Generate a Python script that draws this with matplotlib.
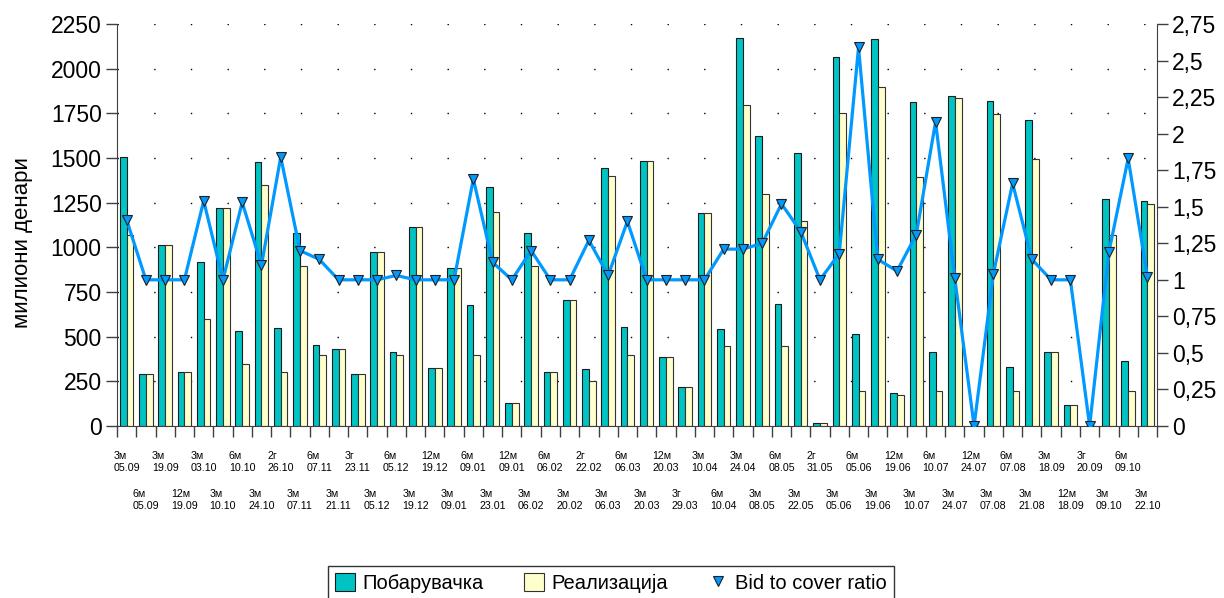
import matplotlib
matplotlib.use("Agg")
import matplotlib.pyplot as plt
import numpy as np
from matplotlib.patches import Patch
from matplotlib.lines import Line2D
from matplotlib.ticker import FuncFormatter

plt.rcParams['font.family'] = ['Liberation Sans', 'DejaVu Sans']

categories = ["3м\n05.09", "6м\n05.09", "3м\n19.09", "12м\n19.09", "3м\n03.10", "3м\n10.10",
              "6м\n10.10", "3м\n24.10", "2г\n26.10", "3м\n07.11", "6м\n07.11", "3м\n21.11",
              "3г\n23.11", "3м\n05.12", "6м\n05.12", "3м\n19.12", "12м\n19.12", "3м\n09.01",
              "6м\n09.01", "3м\n23.01", "12м\n09.01", "3м\n06.02", "6м\n06.02", "3м\n20.02",
              "2г\n22.02", "3м\n06.03", "6м\n06.03", "3м\n20.03", "12м\n20.03", "3г\n29.03",
              "3м\n10.04", "6м\n10.04", "3м\n24.04", "3м\n08.05", "6м\n08.05", "3м\n22.05",
              "2г\n31.05", "3м\n05.06", "6м\n05.06", "3м\n19.06", "12м\n19.06", "3м\n10.07",
              "6м\n10.07", "3м\n24.07", "12м\n24.07", "3м\n07.08", "6м\n07.08", "3м\n21.08",
              "3м\n18.09", "12м\n18.09", "3г\n20.09", "3м\n09.10", "6м\n09.10", "3м\n22.10"]

demand = [1507, 289, 1011, 300, 920, 1218, 533, 1479, 550, 1082, 455, 433, 289, 976, 414,
          1112, 323, 886, 675, 1340, 127, 1082, 302, 703, 317, 1446, 556, 1483, 388, 216,
          1194, 545, 2173, 1625, 683, 1530, 15, 2063, 515, 2168, 183, 1815, 416, 1847, 0,
          1821, 328, 1711, 414, 118, 0, 1270, 364, 1261]

realized = [1069, 289, 1011, 300, 599, 1218, 347, 1347, 300, 897, 399, 433, 289, 976, 399,
            1112, 323, 886, 399, 1199, 127, 897, 302, 703, 250, 1397, 399, 1483, 388, 216,
            1194, 449, 1798, 1300, 449, 1149, 15, 1754, 198, 1896, 172, 1394, 198, 1834, 0,
            1746, 198, 1496, 414, 118, 0, 1069, 198, 1242]

ratio = [1.41, 1.0, 1.0, 1.0, 1.54, 1.0, 1.53, 1.10, 1.84, 1.20, 1.14, 1.0, 1.0, 1.0, 1.03,
         1.0, 1.0, 1.0, 1.69, 1.12, 1.0, 1.20, 1.0, 1.0, 1.27, 1.03, 1.40, 1.0, 1.0, 1.0,
         1.0, 1.21, 1.21, 1.25, 1.52, 1.33, 1.0, 1.18, 2.59, 1.14, 1.06, 1.31, 2.08, 1.01, 0.0,
         1.04, 1.66, 1.14, 1.0, 1.0, 0.0, 1.19, 1.83, 1.02]

left_ticks = [0, 250, 500, 750, 1000, 1250, 1500, 1750, 2000, 2250]
right_ticks = [0, 0.25, 0.5, 0.75, 1, 1.25, 1.5, 1.75, 2, 2.25, 2.5, 2.75]

teal = '#00C4C4'
yellow = '#FFFFCC'
blue = '#0099FF'

fig = plt.figure(figsize=(12.24, 5.98), dpi=100)
ax = fig.add_axes([0.0956, 0.2876, 0.8497, 0.6723])

x = np.arange(len(categories))
w = 0.35
ax.bar(x - w / 2, demand, width=w, color=teal, edgecolor='#1a1a1a', linewidth=0.8, zorder=2)
ax.bar(x + w / 2, realized, width=w, color=yellow, edgecolor='#333333', linewidth=0.8, zorder=2)

ax.set_xlim(-0.5, len(categories) - 0.5)
ax.set_ylim(0, 2250)
ax.set_yticks(left_ticks)
ax.tick_params(axis='y', labelsize=16.5, length=8, width=1, color='#404040', pad=3)
ax.yaxis.grid(True, color='black', linewidth=1, linestyle=(0, (1, 25.4)))
ax.set_axisbelow(True)
ax.set_xticks(np.arange(-0.5, len(categories), 1.0))
ax.set_xticklabels([])
ax.tick_params(axis='x', length=8, width=1, color='#404040')
ax.set_ylabel('милиони денари', fontsize=16)
ax.yaxis.set_label_coords(-0.081, 0.456)
for s in ['top', 'right']:
    ax.spines[s].set_visible(False)
ax.spines['left'].set_color('#404040')
ax.spines['bottom'].set_color('#404040')

for i, lab in enumerate(categories):
    off = -26 if i % 2 == 0 else -53.5
    ax.annotate(lab, xy=(i, 0), xycoords=('data', 'axes fraction'),
                xytext=(0, off), textcoords='offset points',
                ha='center', va='center', multialignment='left', fontsize=7.7,
                linespacing=1.25)

ax2 = ax.twinx()
ax2.plot(x, ratio, color=blue, linewidth=2.3, marker='v', markersize=7,
         markerfacecolor=blue, markeredgecolor='#202020', markeredgewidth=0.8, zorder=3)
ax2.set_ylim(0, 2.75)
ax2.set_yticks(right_ticks)
ax2.yaxis.set_major_formatter(FuncFormatter(lambda v, p: ('%g' % v).replace('.', ',')))
ax2.tick_params(axis='y', labelsize=16.5, length=8, width=1, color='#404040', pad=3)
for s in ['top', 'left', 'bottom']:
    ax2.spines[s].set_visible(False)
ax2.spines['right'].set_color('#404040')

handles = [Patch(facecolor=teal, edgecolor='#1a1a1a', linewidth=0.8),
           Patch(facecolor=yellow, edgecolor='#333333', linewidth=0.8),
           Line2D([], [], linestyle='none', marker='v', markersize=7,
                  markerfacecolor=blue, markeredgecolor='#202020', markeredgewidth=0.8)]
leg = fig.legend(handles, ['Побарувачка', 'Реализација', 'Bid to cover ratio'],
                 loc='upper center', bbox_to_anchor=(0.4992, 0.054), ncol=3, fontsize=14.5,
                 frameon=True, fancybox=False, shadow=False, borderpad=0.35,
                 handlelength=1.0, handleheight=1.0, handletextpad=0.35, columnspacing=2.0,
                 borderaxespad=0)
leg.get_frame().set_edgecolor('black')
leg.get_frame().set_linewidth(1.0)

fig.savefig('out.png', dpi=100)
